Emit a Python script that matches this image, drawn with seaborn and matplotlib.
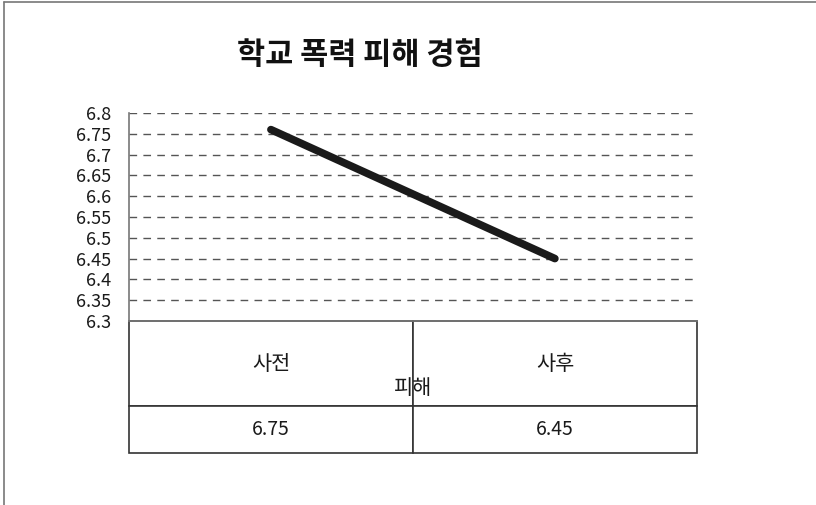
import matplotlib as mpl
import matplotlib.pyplot as plt
from matplotlib.lines import Line2D
import pandas as pd
import seaborn as sns

# Chart data.
title = '학교 폭력 피해 경험'
group_label = '피해'
phases = ['사전', '사후']
scores = [6.76, 6.45]
table_values = ['6.75', '6.45']
y_ticks = [6.3, 6.35, 6.4, 6.45, 6.5, 6.55, 6.6, 6.65, 6.7, 6.75, 6.8]

sns.set_style("white")
plt.rcParams['font.family'] = ['Noto Sans CJK KR', 'DejaVu Sans']

df = pd.DataFrame({'phase': phases, 'score': scores})

fig = plt.figure(figsize=(8.16, 5.05), dpi=100)
ax = fig.add_axes([0.158, 0.3644, 0.696, 0.4119])

sns.lineplot(data=df, x='phase', y='score', ax=ax, color='#1a1a1a',
             linewidth=5.5, solid_capstyle='round', sort=False)

ax.set_xlim(-0.5, 1.5)
ax.set_ylim(6.3, 6.8)
ax.set_yticks(y_ticks)
ax.set_yticklabels([f'{t:g}' for t in y_ticks], fontsize=13, color='#1a1a1a')
ax.tick_params(axis='y', length=0, pad=13)
ax.set_xticks([])
ax.set_xlabel('')
ax.set_ylabel('')

# Dashed gridlines (skip the baseline).
for t in y_ticks[1:]:
    ax.axhline(t, color='#555555', linestyle=(0, (5.5, 4.5)), linewidth=1, zorder=0)

for side in ['top', 'right']:
    ax.spines[side].set_visible(False)
for side in ['left', 'bottom']:
    ax.spines[side].set_color('#777777')
    ax.spines[side].set_linewidth(1.2)

# Data table under the plot.
tbl = ax.table(cellText=[phases, table_values], cellLoc='center',
               bbox=[0, -0.635, 1, 0.635])
tbl.auto_set_font_size(False)
for (r, c), cell in tbl.get_celld().items():
    cell.set_height(85 if r == 0 else 47)
    cell.set_edgecolor('#333333')
    cell.set_linewidth(1.2)
    cell.get_text().set_fontsize(15 if r == 0 else 14)
    cell.get_text().set_color('#1a1a1a')

ax.text(0.5, -0.322, group_label, transform=ax.transAxes, ha='center',
        va='center', fontsize=15, color='#1a1a1a')

fig.text(360 / 816, 1 - 55 / 505, title, ha='center', va='center',
         fontsize=22, fontweight='bold', color='#111111')

# Page frame: top and left edges only.
fig.add_artist(Line2D([0.005, 0.005], [0, 0.996], transform=fig.transFigure,
                      color='#777777', linewidth=1.2))
fig.add_artist(Line2D([0.005, 1], [0.996, 0.996], transform=fig.transFigure,
                      color='#777777', linewidth=1.2))

fig.savefig('out.png', dpi=100)
